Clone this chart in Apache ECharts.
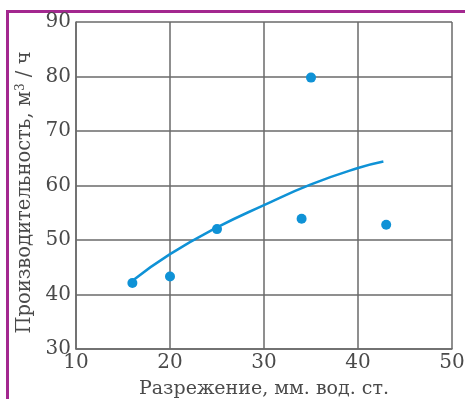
<!DOCTYPE html>
<html>
<head>
<meta charset="utf-8">
<script src="https://cdn.jsdelivr.net/npm/echarts@6/dist/echarts.min.js"></script>
<style>
  html, body { margin: 0; padding: 0; background: #fff; }
  #frame { position: absolute; left: 6px; top: 10px; width: 470px; height: 400px;
           border-left: 3px solid #a3288f; border-top: 3px solid #a3288f; box-sizing: border-box; }
  #main { position: absolute; left: 0; top: 0; width: 465px; height: 399px; }
</style>
</head>
<body>
<div id="frame"></div>
<div id="main"></div>
<script>
// measured points: разрежение (x) vs производительность (y)
var pointsX = [16, 20, 25, 34, 35, 43];
var pointsY = [42.1, 43.3, 52.0, 53.9, 79.8, 52.8];

// fitted curve
var curveX = [15.9, 20, 25, 30, 35, 40, 42.7];
var curveY = [42.4, 47.4, 52.3, 56.4, 60.2, 63.2, 64.4];

var xTicks = [10, 20, 30, 40, 50];
var yTicks = [30, 40, 50, 60, 70, 80, 90];

var blue = '#0f92d6';
var gridColor = '#6a6a6a';
var textColor = '#4a4a4a';
var font = '"DejaVu Serif", "Liberation Serif", serif';

var chart = echarts.init(document.getElementById('main'));
chart.setOption({
    backgroundColor: 'transparent',
    animation: false,
    grid: { left: 76, right: 13, top: 22, bottom: 50, outerBoundsMode: 'none', containLabel: false },
    xAxis: {
        type: 'value',
        min: xTicks[0],
        max: xTicks[xTicks.length - 1],
        interval: 10,
        name: 'Разрежение, мм. вод. ст.',
        nameLocation: 'middle',
        nameGap: 31,
        nameTextStyle: { fontFamily: font, fontSize: 19, color: textColor },
        axisLine: { show: true, lineStyle: { color: gridColor, width: 1.5 } },
        axisTick: { show: false },
        axisLabel: { fontFamily: font, fontSize: 20, color: textColor, margin: 4 },
        splitLine: { show: true, lineStyle: { color: gridColor, width: 1.5 } }
    },
    yAxis: {
        type: 'value',
        min: yTicks[0],
        max: yTicks[yTicks.length - 1],
        interval: 10,
        name: '{a|Производительность, м}{s|3}{a| / ч}',
        nameLocation: 'middle',
        nameGap: 38,
        nameTextStyle: {
            padding: [0, 14, 0, 0],
            rich: {
                a: { fontFamily: font, fontSize: 19.5, color: textColor },
                s: { fontFamily: font, fontSize: 12, color: textColor, verticalAlign: 'top', padding: [0, 0, 8, 0] }
            }
        },
        axisLine: { show: true, lineStyle: { color: gridColor, width: 1.5 } },
        axisTick: { show: false },
        axisLabel: { fontFamily: font, fontSize: 20, color: textColor, margin: 5 },
        splitLine: { show: true, lineStyle: { color: gridColor, width: 1.5 } }
    },
    series: [{
        type: 'line',
        data: curveX.map(function (x, i) { return [x, curveY[i]]; }),
        smooth: true,
        showSymbol: false,
        lineStyle: { color: blue, width: 2.5 }
    }, {
        type: 'scatter',
        data: pointsX.map(function (x, i) { return [x, pointsY[i]]; }),
        symbolSize: 10,
        itemStyle: { color: blue, opacity: 1 }
    }]
});
</script>
</body>
</html>
